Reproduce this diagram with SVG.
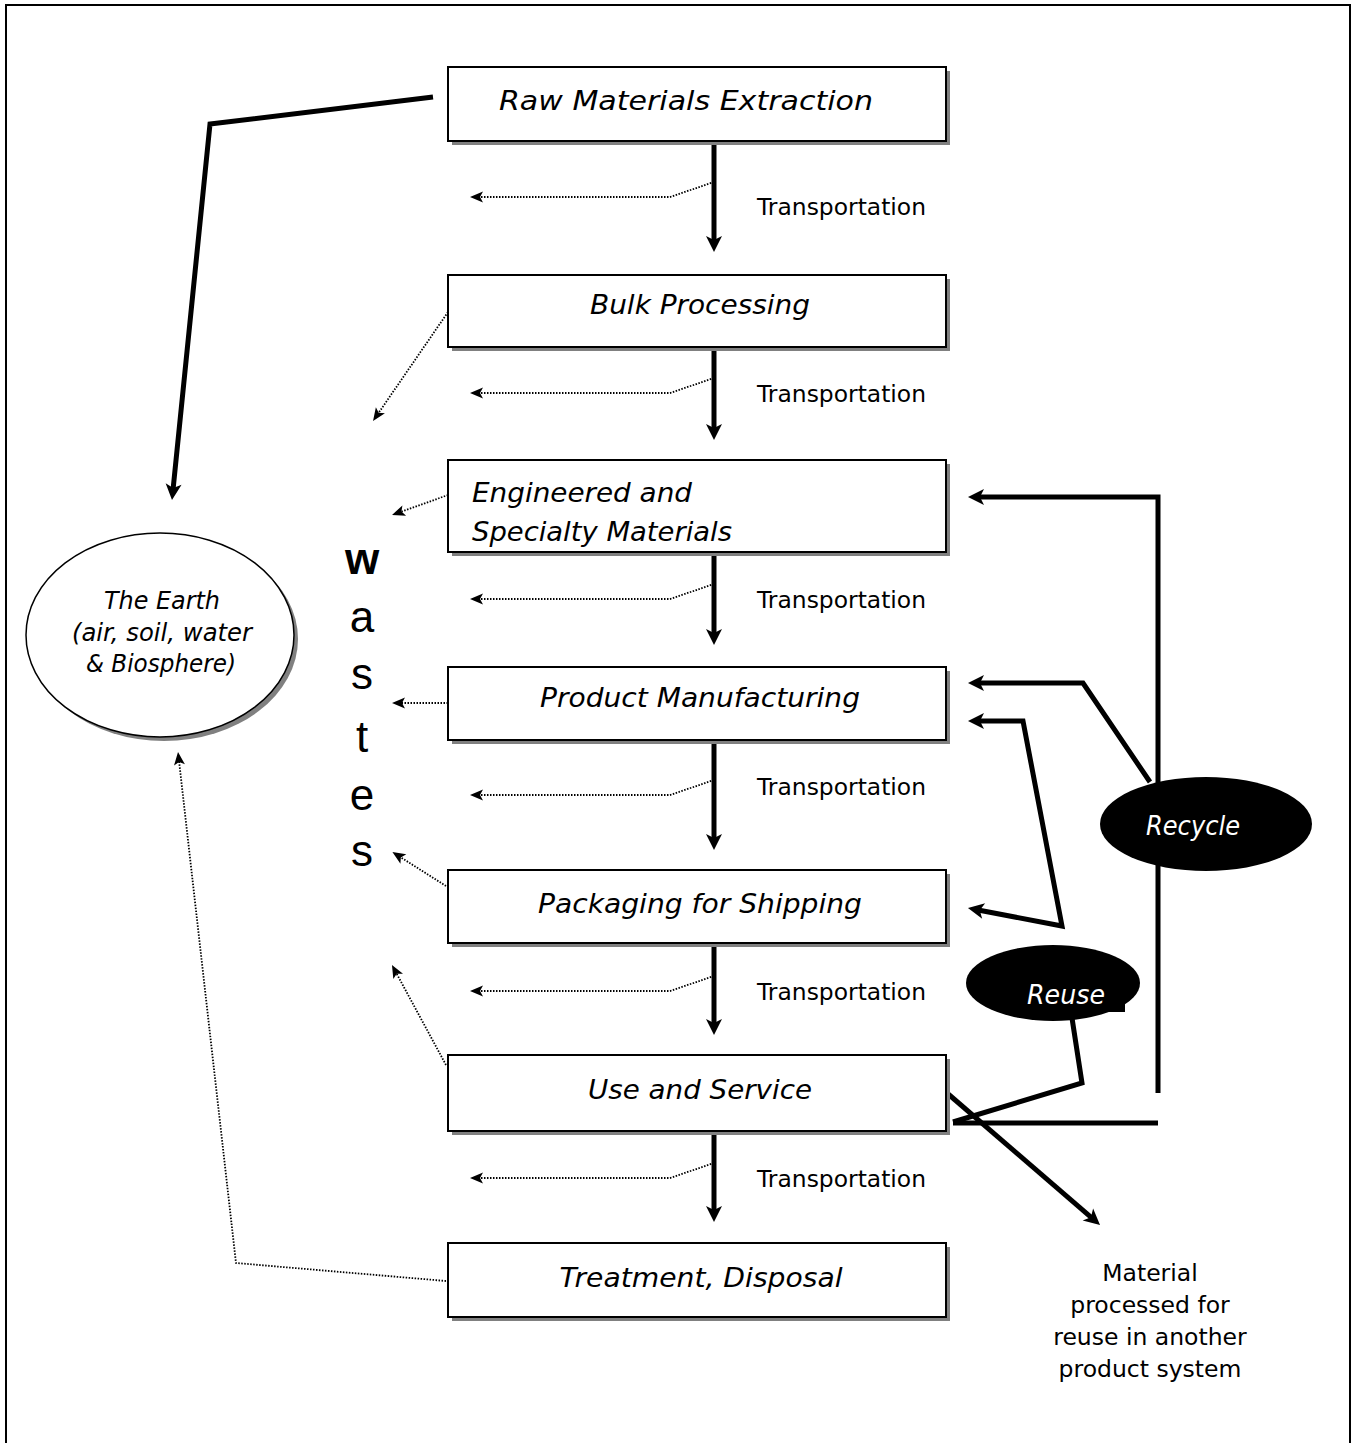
<svg xmlns="http://www.w3.org/2000/svg" width="1353" height="1443" viewBox="0 0 1353 1443">
<style>
.box{fill:#fff;stroke:#000;stroke-width:2}
.sh{fill:#808080}
.bt{font-family:"DejaVu Sans","Noto Sans",sans-serif;font-style:italic;font-size:27px;fill:#000}
.tr{font-family:"DejaVu Sans","Noto Sans",sans-serif;font-size:23.5px;fill:#000}
.et{font-family:"DejaVu Sans","Noto Sans",sans-serif;font-style:italic;font-size:24px;fill:#000}
.wt{font-family:"Liberation Sans",Arial,sans-serif;font-size:44px;fill:#000}
.thick{fill:none;stroke:#000;stroke-width:5;stroke-linejoin:miter}
.dot{fill:none;stroke:#000;stroke-width:1.8;stroke-dasharray:1.5 1.5}
.wl{font-family:"DejaVu Sans","Noto Sans",sans-serif;font-style:italic;font-size:26px;fill:#fff}
</style>
<defs>
<marker id="ah" markerUnits="userSpaceOnUse" markerWidth="30" markerHeight="30" viewBox="-15 -15 30 30" refX="0" refY="0" orient="auto-start-reverse" overflow="visible">
<path d="M9,0 L-7,-8 L-3,0 L-7,8 Z" fill="#000"/>
</marker>
<marker id="dh" markerUnits="userSpaceOnUse" markerWidth="30" markerHeight="30" viewBox="-15 -15 30 30" refX="0" refY="0" orient="auto" overflow="visible">
<path d="M7,0 L-6,-5.5 L-3,0 L-6,5.5 Z" fill="#000"/>
</marker>
<clipPath id="c3"><rect x="449" y="461" width="496" height="89"/></clipPath>
</defs>
<rect x="6" y="5" width="1344" height="1450" fill="none" stroke="#000" stroke-width="2"/>

<g id="connectors">
<polyline class="thick" points="433,97 210,124 172.9,491" marker-end="url(#ah)"/>
<line class="thick" x1="714" y1="141" x2="714" y2="243" marker-end="url(#ah)"/>
<line class="thick" x1="714" y1="347" x2="714" y2="431" marker-end="url(#ah)"/>
<line class="thick" x1="714" y1="552" x2="714" y2="636" marker-end="url(#ah)"/>
<line class="thick" x1="714" y1="740" x2="714" y2="841" marker-end="url(#ah)"/>
<line class="thick" x1="714" y1="943" x2="714" y2="1026" marker-end="url(#ah)"/>
<line class="thick" x1="714" y1="1131" x2="714" y2="1213" marker-end="url(#ah)"/>
<polyline class="dot" points="714,182 670,197 477,197" marker-end="url(#dh)"/>
<polyline class="dot" points="714,378 670,393 477,393" marker-end="url(#dh)"/>
<polyline class="dot" points="714,584 670,599 477,599" marker-end="url(#dh)"/>
<polyline class="dot" points="714,780 670,795 477,795" marker-end="url(#dh)"/>
<polyline class="dot" points="714,976 670,991 477,991" marker-end="url(#dh)"/>
<polyline class="dot" points="714,1163 670,1178 477,1178" marker-end="url(#dh)"/>
<line class="dot" x1="448" y1="312" x2="377" y2="415.2" marker-end="url(#dh)"/>
<line class="dot" x1="448" y1="495" x2="398.6" y2="512.6" marker-end="url(#dh)"/>
<line class="dot" x1="448" y1="703" x2="399" y2="703" marker-end="url(#dh)"/>
<line class="dot" x1="446" y1="886" x2="398.3" y2="855.8" marker-end="url(#dh)"/>
<line class="dot" x1="446" y1="1065" x2="395.3" y2="971.2" marker-end="url(#dh)"/>
<polyline class="dot" points="446,1281 236,1263 178.8,759" marker-end="url(#dh)"/>
<polyline class="thick" points="1158,1093 1158,497 977,497" marker-end="url(#ah)"/>
<polyline class="thick" points="1150,782 1083,683 977,683" marker-end="url(#ah)"/>
<polyline class="thick" points="977,721 1023,721 1062,926 976.8,909.7" marker-start="url(#ah)" marker-end="url(#ah)"/>
<polyline class="thick" points="1072,1018 1082,1083 953,1122"/>
<line class="thick" x1="953" y1="1123" x2="1158" y2="1123"/>
<line class="thick" x1="947" y1="1093" x2="1093.2" y2="1219.1" marker-end="url(#ah)"/>
</g>

<g id="raw">
<rect class="sh" x="452" y="71" width="498" height="74"/>
<rect class="box" x="448" y="67" width="498" height="74"/>
<text class="bt" x="686" y="110" text-anchor="middle" textLength="374" lengthAdjust="spacingAndGlyphs">Raw Materials Extraction</text>
</g>
<g id="bulk">
<rect class="sh" x="452" y="279" width="498" height="72"/>
<rect class="box" x="448" y="275" width="498" height="72"/>
<text class="bt" x="700" y="314" text-anchor="middle" textLength="220" lengthAdjust="spacingAndGlyphs">Bulk Processing</text>
</g>
<g id="engineered">
<rect class="sh" x="452" y="464" width="498" height="92"/>
<rect class="box" x="448" y="460" width="498" height="92"/>
<g clip-path="url(#c3)">
<text class="bt" x="472" y="502" textLength="220" lengthAdjust="spacingAndGlyphs">Engineered and</text>
<text class="bt" x="472" y="541" textLength="260" lengthAdjust="spacingAndGlyphs">Specialty Materials</text>
</g>
</g>
<g id="manufacturing">
<rect class="sh" x="452" y="671" width="498" height="73"/>
<rect class="box" x="448" y="667" width="498" height="73"/>
<text class="bt" x="700" y="707" text-anchor="middle" textLength="320" lengthAdjust="spacingAndGlyphs">Product Manufacturing</text>
</g>
<g id="packaging">
<rect class="sh" x="452" y="874" width="498" height="73"/>
<rect class="box" x="448" y="870" width="498" height="73"/>
<text class="bt" x="700" y="913" text-anchor="middle" textLength="324" lengthAdjust="spacingAndGlyphs">Packaging for Shipping</text>
</g>
<g id="use">
<rect class="sh" x="452" y="1059" width="498" height="76"/>
<rect class="box" x="448" y="1055" width="498" height="76"/>
<text class="bt" x="700" y="1099" text-anchor="middle" textLength="224" lengthAdjust="spacingAndGlyphs">Use and Service</text>
</g>
<g id="treatment">
<rect class="sh" x="452" y="1247" width="498" height="74"/>
<rect class="box" x="448" y="1243" width="498" height="74"/>
<text class="bt" x="701" y="1287" text-anchor="middle" textLength="283" lengthAdjust="spacingAndGlyphs">Treatment, Disposal</text>
</g>

<g id="transport-labels">
<text class="tr" x="757" y="215" textLength="169" lengthAdjust="spacingAndGlyphs">Transportation</text>
<text class="tr" x="757" y="402" textLength="169" lengthAdjust="spacingAndGlyphs">Transportation</text>
<text class="tr" x="757" y="608" textLength="169" lengthAdjust="spacingAndGlyphs">Transportation</text>
<text class="tr" x="757" y="795" textLength="169" lengthAdjust="spacingAndGlyphs">Transportation</text>
<text class="tr" x="757" y="1000" textLength="169" lengthAdjust="spacingAndGlyphs">Transportation</text>
<text class="tr" x="757" y="1187" textLength="169" lengthAdjust="spacingAndGlyphs">Transportation</text>
</g>

<g id="earth">
<ellipse cx="164" cy="639" rx="134" ry="102" fill="#808080"/>
<ellipse cx="160" cy="635" rx="134" ry="102" fill="#fff" stroke="#000" stroke-width="1.5"/>
<text class="et" x="162" y="609" text-anchor="middle" textLength="116" lengthAdjust="spacingAndGlyphs">The Earth</text>
<text class="et" x="162" y="641" text-anchor="middle" textLength="180" lengthAdjust="spacingAndGlyphs">(air, soil, water</text>
<text class="et" x="161" y="672" text-anchor="middle" textLength="150" lengthAdjust="spacingAndGlyphs">&amp; Biosphere)</text>
</g>

<g id="wastes">
<text class="wt" x="362" y="574" text-anchor="middle" font-weight="bold" font-size="56">w</text>
<text class="wt" x="362" y="632" text-anchor="middle">a</text>
<text class="wt" x="362" y="689" text-anchor="middle">s</text>
<text class="wt" x="362" y="752" text-anchor="middle">t</text>
<text class="wt" x="362" y="810" text-anchor="middle">e</text>
<text class="wt" x="362" y="866" text-anchor="middle">s</text>
</g>

<g id="recycle">
<ellipse cx="1206" cy="824" rx="106" ry="47" fill="#000"/>
<text class="wl" x="1193" y="835" text-anchor="middle" textLength="94" lengthAdjust="spacingAndGlyphs">Recycle</text>
</g>
<g id="reuse">
<ellipse cx="1053" cy="983" rx="87" ry="38" fill="#000"/>
<rect x="1100" y="1000" width="25" height="12" fill="#000"/>
<text class="wl" x="1066" y="1004" text-anchor="middle" textLength="78" lengthAdjust="spacingAndGlyphs">Reuse</text>
</g>
<g id="material">
<text class="tr" x="1150" y="1281" text-anchor="middle">Material</text>
<text class="tr" x="1150" y="1313" text-anchor="middle">processed for</text>
<text class="tr" x="1150" y="1345" text-anchor="middle">reuse in another</text>
<text class="tr" x="1150" y="1377" text-anchor="middle">product system</text>
</g>
</svg>
